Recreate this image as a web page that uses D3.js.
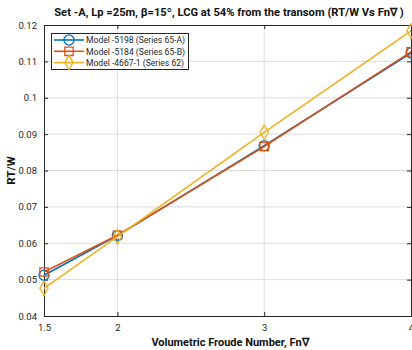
<!DOCTYPE html>
<html>
<head>
<meta charset="utf-8">
<script src="https://cdn.jsdelivr.net/npm/d3@7"></script>
<style>
  body { margin: 0; background: #fff; }
  text { font-family: "Liberation Sans", Arial, sans-serif; }
</style>
</head>
<body>
<div id="chart"></div>
<script>
var fn = [1.5, 2, 3, 4];
var model5198 = [0.0512, 0.0621, 0.0868, 0.1123];
var model5184 = [0.0521, 0.0622, 0.0866, 0.1126];
var model4667 = [0.0476, 0.0618, 0.0905, 0.1184];
var seriesNames = ["Model -5198 (Series 65-A)", "Model -5184 (Series 65-B)", "Model -4667-1 (Series 62)"];
var xTicks = [1.5, 2, 3, 4];
var yTicks = [0.04, 0.05, 0.06, 0.07, 0.08, 0.09, 0.1, 0.11, 0.12];

var width = 412, height = 350;
var plotLeft = 44, plotRight = 411, plotTop = 25, plotBottom = 316;

var svg = d3.select("#chart").append("svg")
  .attr("width", width)
  .attr("height", height);

var x = d3.scaleLinear().domain([1.5, 4]).range([plotLeft, plotRight]);
var y = d3.scaleLinear().domain([0.04, 0.12]).range([plotBottom, plotTop]);

// grid
svg.append("g").selectAll("line")
  .data([2, 3])
  .enter().append("line")
  .attr("x1", function(d) { return x(d); })
  .attr("x2", function(d) { return x(d); })
  .attr("y1", plotTop).attr("y2", plotBottom)
  .attr("stroke", "#dcdcdc").attr("stroke-width", 1);
svg.append("g").selectAll("line")
  .data(yTicks.slice(1, -1))
  .enter().append("line")
  .attr("x1", plotLeft).attr("x2", plotRight)
  .attr("y1", function(d) { return y(d); })
  .attr("y2", function(d) { return y(d); })
  .attr("stroke", "#dcdcdc").attr("stroke-width", 1);

// axes
var axisColor = "#262626";
var xAxis = d3.axisBottom(x).tickValues(xTicks).tickSize(-4).tickPadding(8)
  .tickFormat(function(d) { return d; });
var yAxis = d3.axisLeft(y).tickValues(yTicks).tickSize(-4).tickPadding(7)
  .tickFormat(function(d) { return d; });

svg.append("g").attr("transform", "translate(0," + plotBottom + ")").call(xAxis);
svg.append("g").attr("transform", "translate(" + plotLeft + ",0)").call(yAxis);
svg.append("g").attr("transform", "translate(0," + plotTop + ")")
  .call(d3.axisTop(x).tickValues(xTicks).tickSize(-4).tickFormat(""));
svg.append("g").attr("transform", "translate(" + plotRight + ",0)")
  .call(d3.axisRight(y).tickValues(yTicks).tickSize(-4).tickFormat(""));

svg.selectAll(".domain, .tick line").attr("stroke", axisColor);
svg.selectAll(".tick text").attr("fill", axisColor).style("font-size", "9.5px")
  .style("font-family", "Roboto, 'Liberation Sans', sans-serif");

// lines and markers
var colors = ["#0072BD", "#D95319", "#EDB120"];
var allSeries = [model5198, model5184, model4667];
var markers = [d3.symbolCircle, d3.symbolSquare, d3.symbolDiamond];
var markerSizes = [80, 70, 60];

var line = d3.line()
  .x(function(d, i) { return x(fn[i]); })
  .y(function(d) { return y(d); });

allSeries.forEach(function(s, k) {
  svg.append("path")
    .datum(s)
    .attr("d", line)
    .attr("fill", "none")
    .attr("stroke", colors[k])
    .attr("stroke-width", 1.6);
  svg.append("g").selectAll("path")
    .data(s)
    .enter().append("path")
    .attr("transform", function(d, i) { return "translate(" + x(fn[i]) + "," + y(d) + ")"; })
    .attr("d", d3.symbol().type(markers[k]).size(markerSizes[k]))
    .attr("fill", "none")
    .attr("stroke", colors[k])
    .attr("stroke-width", 1.3);
});

// legend
var legend = svg.append("g");
legend.append("rect")
  .attr("x", 51.5).attr("y", 33.5)
  .attr("width", 137).attr("height", 36)
  .attr("fill", "#fff").attr("stroke", axisColor).attr("stroke-width", 1);
seriesNames.forEach(function(name, k) {
  var ly = 40 + k * 11.3;
  legend.append("line")
    .attr("x1", 54).attr("x2", 84)
    .attr("y1", ly).attr("y2", ly)
    .attr("stroke", colors[k]).attr("stroke-width", 1.6);
  legend.append("path")
    .attr("transform", "translate(69," + ly + ")")
    .attr("d", d3.symbol().type(markers[k]).size(markerSizes[k]))
    .attr("fill", "none").attr("stroke", colors[k]).attr("stroke-width", 1.3);
  legend.append("text")
    .attr("x", 86).attr("y", ly + 3.2)
    .attr("fill", axisColor)
    .style("font-size", "8.6px")
    .style("font-family", "Roboto, 'Liberation Sans', sans-serif")
    .attr("textLength", k === 2 ? 98 : 99)
    .attr("lengthAdjust", "spacingAndGlyphs")
    .text(name);
});

// labels
svg.append("text")
  .attr("x", 229).attr("y", 16)
  .attr("text-anchor", "middle")
  .style("font-size", "11.2px").style("font-weight", "bold")
  .style("font-family", "Roboto, 'Liberation Sans', sans-serif")
  .attr("fill", "#111")
  .text("Set -A, Lp =25m, β=15º, LCG at 54% from the transom (RT/W Vs Fn∇ )");

svg.append("text")
  .attr("x", 230).attr("y", 346)
  .attr("text-anchor", "middle")
  .style("font-size", "11px").style("font-weight", "bold")
  .style("font-family", "Roboto, 'Liberation Sans', sans-serif")
  .attr("fill", "#111")
  .text("Volumetric Froude Number, Fn∇");

svg.append("text")
  .attr("transform", "translate(15," + ((plotTop + plotBottom) / 2) + ") rotate(-90)")
  .attr("text-anchor", "middle")
  .style("font-size", "11.5px").style("font-weight", "bold")
  .style("font-family", "Roboto, 'Liberation Sans', sans-serif")
  .attr("fill", "#111")
  .text("RT/W");
</script>
</body>
</html>
